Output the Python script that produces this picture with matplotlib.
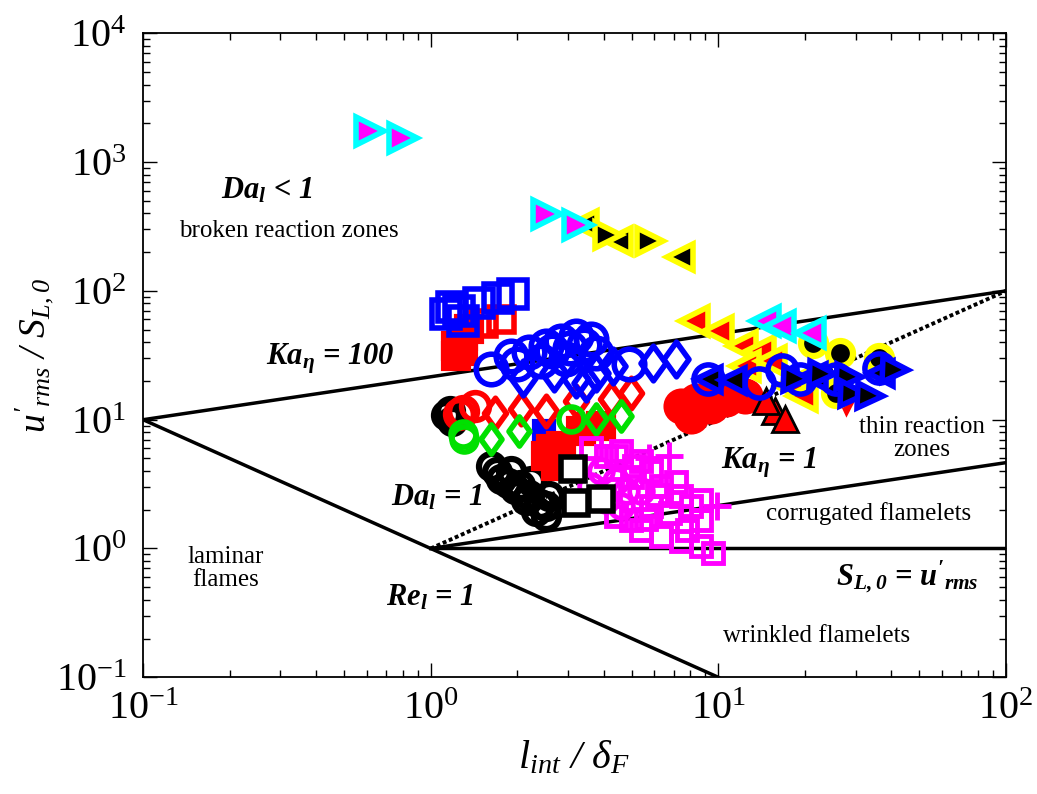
import numpy as np
import matplotlib
matplotlib.use("Agg")
import matplotlib.pyplot as plt
from matplotlib.path import Path
from matplotlib.ticker import LogLocator, NullFormatter

plt.rcParams["font.family"] = ["Liberation Serif", "DejaVu Serif"]
plt.rcParams["mathtext.default"] = "regular"

# ---------------- data (l_int/delta_F, u'_rms/S_L0) ----------------
# left cluster
blk_circ_x = [1.17, 1.19, 1.13, 1.62, 1.75, 1.90, 1.97, 2.14, 2.23, 2.32,
              2.51, 2.57, 2.51, 1.70, 2.05, 2.40, 2.20, 1.85]
blk_circ_y = [11.7, 9.8, 10.8, 4.40, 3.49, 4.02, 2.92, 2.36, 3.37, 1.97,
              1.80, 2.57, 2.15, 3.90, 3.10, 2.20, 2.60, 3.20]

red_fsq_x = [1.22, 1.29, 1.36, 1.22, 1.30, 2.51, 2.72, 2.83, 3.32, 3.90, 2.62]
red_fsq_y = [37.4, 44.7, 50.7, 31.3, 34.0, 5.26, 4.40, 6.28, 8.22, 8.98, 5.9]

red_osq_x = [1.52, 1.75]
red_osq_y = [56.4, 60.6]

blu_sq_x = [1.13, 1.19, 1.29, 1.47, 1.71, 1.93, 1.25]
blu_sq_y = [66.0, 75.0, 58.5, 80.7, 88.0, 94.7, 70.0]

blu_fsq_x = [2.47]
blu_fsq_y = [8.2]

red_ocirc_x = [1.29, 1.43, 1.25]
red_ocirc_y = [11.7, 12.8, 11.0]

red_dia_x = [1.68, 2.06, 2.51, 3.19, 4.22, 4.96]
red_dia_y = [11.3, 12.2, 11.7, 14.0, 14.5, 16.2]

grn_circ_x = [1.29, 1.31, 3.07]
grn_circ_y = [7.78, 7.12, 10.2]

grn_dia_x = [1.62, 2.02, 3.75, 4.58]
grn_dia_y = [7.12, 8.22, 10.2, 10.7]

blu_circ_x = [1.62, 1.90, 2.51, 2.83, 3.19, 3.60, 2.41, 2.95, 3.75, 4.88,
              2.20, 2.65, 3.40, 3.05, 2.00]
blu_circ_y = [24.8, 31.3, 37.4, 40.9, 44.7, 42.4, 28.6, 29.7, 33.0, 27.1,
              33.5, 34.0, 38.0, 36.0, 27.0]

blu_dia_x = [2.09, 2.68, 3.19, 3.46, 4.30, 5.91, 7.11, 3.75]
blu_dia_y = [21.2, 23.1, 20.8, 19.4, 26.2, 27.6, 29.7, 23.1]

mag_sq_x = [3.60, 4.06, 4.58, 5.37, 5.82, 6.30, 7.40, 8.01, 8.68, 4.40,
            4.96, 5.37, 6.30, 7.40, 8.68, 9.56, 5.82, 8.68, 4.40, 5.0,
            6.8, 7.8, 4.2, 5.6, 6.1, 7.1, 5.1]
mag_sq_y = [6.06, 5.26, 5.75, 4.81, 4.02, 3.08, 2.57, 2.15, 2.36, 1.80,
            1.65, 1.38, 1.26, 1.15, 1.05, 0.93, 2.15, 1.65, 5.26, 3.6,
            1.9, 1.4, 2.9, 1.7, 2.6, 3.3, 4.4]

mag_circ_x = [3.90, 4.40, 4.76, 5.37, 4.06, 4.58, 3.60]
mag_circ_y = [4.02, 3.37, 2.81, 2.81, 2.36, 2.15, 3.08]

mag_plus_x = [6.72, 9.87, 5.72]
mag_plus_y = [5.26, 2.15, 5.07]

blk_sq_x = [3.12, 3.19, 3.90]
blk_sq_y = [4.17, 2.27, 2.44]

# right cluster
red_fcirc_x = [7.40, 8.34, 9.40, 10.6, 12.4, 8.01]
red_fcirc_y = [12.8, 14.0, 12.8, 14.5, 15.3, 10.7]

yel_red_x = [8.20, 10.0, 12.1, 14.0, 12.4, 15.2, 17.8, 19.6]
yel_red_y = [58.5, 48.9, 37.4, 34.2, 26.2, 28.6, 18.3, 15.3]

red_blk_x = [15.8, 17.1, 14.6]
red_blk_y = [11.7, 10.2, 14.0]

red_tri_x = [27.7]
red_tri_y = [14.0]

yel_blk_circ_x = [21.3, 26.6, 36.1, 25.6]
yel_blk_circ_y = [39.5, 33.0, 30.2, 16.2]

blu_rcirc_x = [9.18, 13.8, 16.7, 19.3, 25.6, 36.1]
blu_rcirc_y = [20.8, 19.4, 24.4, 20.8, 20.8, 25.3]

blu_blk_r_x = [18.6, 23.0, 28.4, 29.3, 33.8, 41.3]
blu_blk_r_y = [20.8, 22.7, 21.5, 15.9, 15.3, 24.4]

blu_blk_l_x = [9.18, 11.2, 21.3, 36.6]
blu_blk_l_y = [20.8, 20.4, 21.9, 23.1]

yel_blk_r_x = [4.13, 5.78]
yel_blk_r_y = [272, 244]
yel_blk_l_x = [3.40, 4.48, 7.36]
yel_blk_l_y = [330, 244, 184]

cy_mag_r_x = [0.615, 0.80, 2.54, 3.25]
cy_mag_r_y = [1738, 1535, 395, 325]

cy_mag_l_x = [14.5, 16.4, 20.8]
cy_mag_l_y = [58.0, 53.6, 47.0]

# ---------------- regime boundaries ----------------
ka100_x, ka100_y = [0.1, 100], [10, 100]
ka1_x, ka1_y = [1, 100], [1, 4.64]
da1_x, da1_y = [1, 100], [1, 100]
re1_x, re1_y = [0.1, 10], [10, 0.1]
sl_x, sl_y = [1, 100], [1, 1]

fig = plt.figure(figsize=(10.37, 7.94), dpi=100)
ax = fig.add_axes([0.138, 0.147, 0.832, 0.811])
ax.set_xscale("log")
ax.set_yscale("log")
ax.set_xlim(0.1, 100)
ax.set_ylim(0.1, 1e4)

lw = 2.5
ax.plot(ka100_x, ka100_y, color="black", lw=lw, zorder=2)
ax.plot(ka1_x, ka1_y, color="black", lw=lw, zorder=2)
ax.plot(re1_x, re1_y, color="black", lw=lw, zorder=2)
ax.plot(sl_x, sl_y, color="black", lw=lw, zorder=2)
ax.plot(da1_x, da1_y, color="black", lw=2.8, ls=(0, (1, 0.7)), zorder=2)

dia = Path([(0, -1), (0.72, 0), (0, 1), (-0.72, 0), (0, -1)],
           [Path.MOVETO, Path.LINETO, Path.LINETO, Path.LINETO, Path.CLOSEPOLY])


def pts(x, y, marker, ms, fc, ec, mew, z=3):
    ax.plot(x, y, ls="none", marker=marker, ms=ms, mfc=fc, mec=ec,
            mew=mew, zorder=z)


pts(blk_circ_x, blk_circ_y, "o", 18, "none", "black", 4.5)
pts(blu_fsq_x, blu_fsq_y, "s", 15, "blue", "blue", 3)
pts(red_fsq_x, red_fsq_y, "s", 19, "red", "red", 3)
pts(red_osq_x, red_osq_y, "s", 18, "none", "red", 4)
pts(red_ocirc_x, red_ocirc_y, "o", 20, "none", "red", 4)
pts(red_dia_x, red_dia_y, dia, 22, "none", "red", 4)
pts(grn_circ_x, grn_circ_y, "o", 18, "none", "#00e000", 4)
pts(grn_dia_x, grn_dia_y, dia, 21, "none", "#00e000", 4)
pts(blu_sq_x, blu_sq_y, "s", 20, "none", "blue", 4)
pts(blu_circ_x, blu_circ_y, "o", 22, "none", "blue", 4)
pts(blu_dia_x, blu_dia_y, dia, 25, "none", "blue", 4)
pts(mag_circ_x, mag_circ_y, "o", 17, "none", "magenta", 3.5)
pts(mag_sq_x, mag_sq_y, "s", 15, "none", "magenta", 3.5)
pts(mag_plus_x, mag_plus_y, "+", 20, "none", "magenta", 3.5)
pts(blk_sq_x, blk_sq_y, "s", 17, "white", "black", 4)

pts(red_fcirc_x, red_fcirc_y, "o", 24, "red", "red", 2)
pts(yel_red_x, yel_red_y, "<", 20, "red", "yellow", 4)
pts(red_blk_x, red_blk_y, "^", 19, "red", "black", 2)
pts(red_tri_x, red_tri_y, "v", 18, "red", "red", 2)
pts(yel_blk_circ_x, yel_blk_circ_y, "o", 18, "black", "yellow", 4.5)
pts(blu_rcirc_x, blu_rcirc_y, "o", 21, "none", "blue", 4)
pts(blu_blk_l_x, blu_blk_l_y, "<", 18, "black", "blue", 4)
pts(blu_blk_r_x, blu_blk_r_y, ">", 18, "black", "blue", 4)
pts(yel_blk_l_x, yel_blk_l_y, "<", 19, "black", "yellow", 4)
pts(yel_blk_r_x, yel_blk_r_y, ">", 19, "black", "yellow", 4)
pts(cy_mag_r_x, cy_mag_r_y, ">", 20, "magenta", "cyan", 4)
pts(cy_mag_l_x, cy_mag_l_y, "<", 20, "magenta", "cyan", 4)

# ---------------- regime labels ----------------
big = dict(fontsize=22, fontweight="bold", style="italic", zorder=5)
small = dict(fontsize=18, zorder=5)
ax.text(0.186, 595, r"$Da_{l}$ < 1", ha="left", va="center", **big)
ax.text(0.321, 291, "broken reaction zones", ha="center", va="center", **small)
ax.text(0.267, 29.7, r"$Ka_{\eta}$ = 100", ha="left", va="center", **big)
ax.text(0.726, 2.48, r"$Da_{l}$ = 1", ha="left", va="center", **big)
ax.text(10.2, 4.64, r"$Ka_{\eta}$ = 1", ha="left", va="center", **big)
ax.text(50.9, 7.12, "thin reaction\nzones", ha="center", va="center",
        linespacing=1.05, **small)
ax.text(33.3, 1.87, "corrugated flamelets", ha="center", va="center", **small)
ax.text(25.6, 0.596, r"$S_{L,0}$ = $u'_{rms}$", ha="left", va="center", **big)
ax.text(0.194, 0.70, "laminar\nflames", ha="center", va="center",
        linespacing=1.05, **small)
ax.text(0.698, 0.417, r"$Re_{l}$ = 1", ha="left", va="center", **big)
ax.text(22.0, 0.208, "wrinkled flamelets", ha="center", va="center", **small)

# ---------------- axes ----------------
for a in (ax.xaxis, ax.yaxis):
    a.set_major_locator(LogLocator(base=10, numticks=10))
    a.set_minor_locator(LogLocator(base=10, subs=np.arange(2, 10), numticks=20))
    a.set_minor_formatter(NullFormatter())
ax.tick_params(which="both", direction="in", top=True, right=True,
               labelsize=29, width=1)
ax.tick_params(which="major", length=10)
ax.tick_params(which="minor", length=5)
ax.tick_params(axis="y", pad=12)
ax.tick_params(axis="x", pad=10)
for s in ax.spines.values():
    s.set_linewidth(1.3)

ax.set_xlabel(r"$l_{int}$ / $\delta_{F}$", fontsize=29, style="italic",
              labelpad=8)
ax.set_ylabel(r"$u'_{rms}$ / $S_{L,0}$", fontsize=27, style="italic",
              labelpad=0)

fig.savefig("out.png", dpi=100)
